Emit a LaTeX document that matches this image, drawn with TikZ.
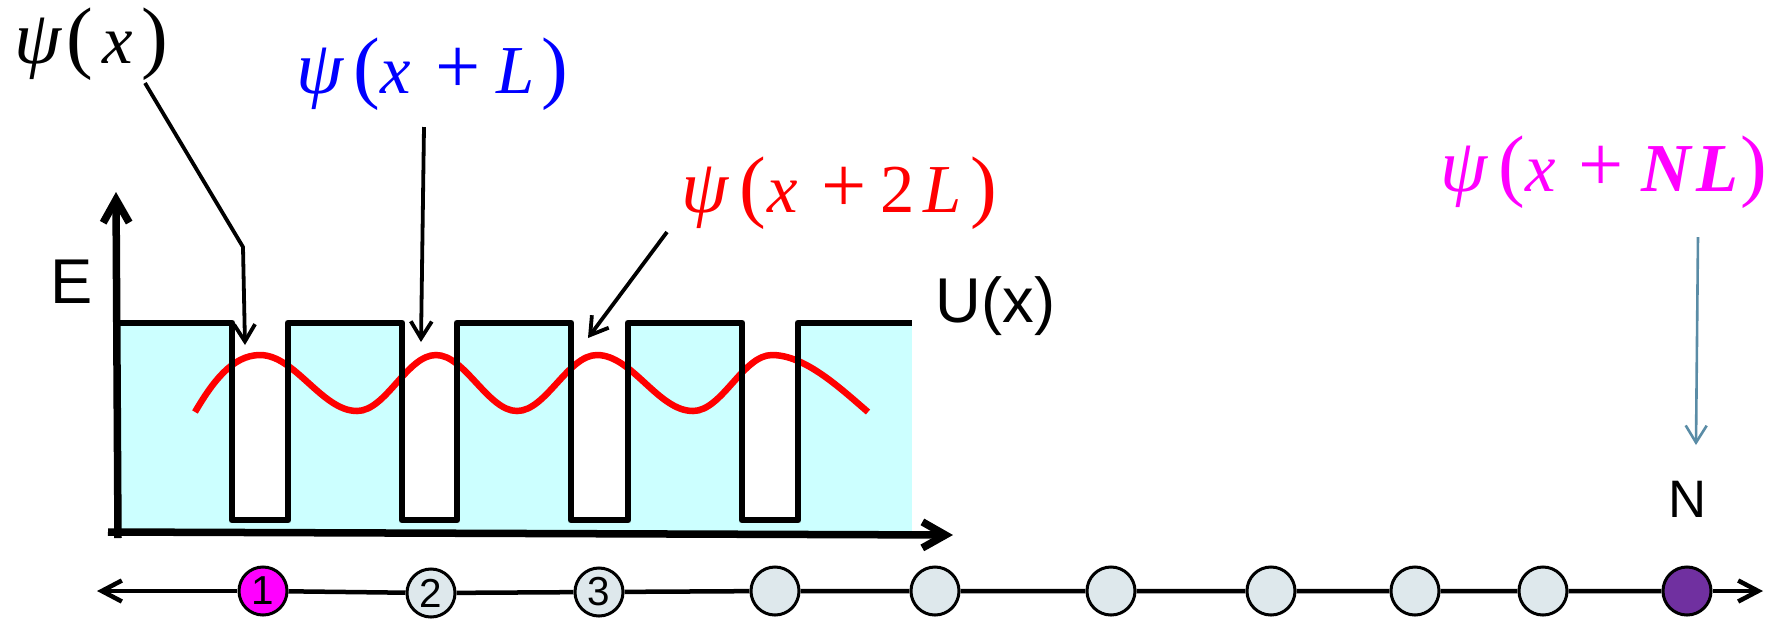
\documentclass[tikz,border=0pt]{standalone}
\usepackage{fontspec}
\setmainfont{Liberation Sans}
\newfontfamily\tms{Liberation Serif}
\usetikzlibrary{arrows.meta}
\definecolor{wellcyan}{HTML}{CCFFFF}
\definecolor{sitegray}{HTML}{DEE8EC}
\definecolor{sitepurple}{HTML}{7030A0}
\definecolor{leadblue}{HTML}{5A8CA6}
\definecolor{pink}{HTML}{FF00FF}
\newlength\pxu
\setlength\pxu{0.01cm}
% glyph placed at a fixed offset (in px) from the label origin
\newcommand{\glat}[2]{\rlap{\hspace*{#1\pxu}#2}}
\newcommand{\mpsi}{{\fontsize{21.5}{24}\selectfont\itshape ψ}}
\newcommand{\mvi}[1]{{\fontsize{19.5}{22}\selectfont\itshape #1}}
\newcommand{\mvb}[1]{{\fontsize{19.5}{22}\selectfont\bfseries\itshape #1}}
\newcommand{\mvup}[1]{{\fontsize{19.5}{22}\selectfont\upshape #1}}
\newcommand{\mbg}[1]{{\fontsize{22.8}{26}\selectfont\upshape #1}}
\begin{document}
\begin{tikzpicture}[x=0.01cm,y=-0.01cm,
  lbl/.style={inner sep=0pt, anchor=base west},
  mathlbl/.style={inner sep=0pt, anchor=base west, font=\tms},
  axisline/.style={line width=0.075cm, -{Straight Barb[length=0.23cm,width=0.26cm]}},
  leader/.style={line width=0.038cm, -{Straight Barb[length=0.17cm,width=0.21cm]}},
  site/.style={circle, draw, line width=0.03cm, minimum size=0.48cm, inner sep=0pt, fill=sitegray, font=\fontsize{11.5}{13}\selectfont},
  chainline/.style={line width=0.045cm},
  tipL/.style={{Straight Barb[length=0.2cm,width=0.21cm]}-},
  tipR/.style={-{Straight Barb[length=0.2cm,width=0.21cm]}}
  ]
\useasboundingbox (0,0) rectangle (1765,620);

% potential region fill
\fill[wellcyan] (118,322) rectangle (912,532);
\fill[white] (232,322) rectangle (288,520);
\fill[white] (402,322) rectangle (457,520);
\fill[white] (571,322) rectangle (628,520);
\fill[white] (742,322) rectangle (798,520);

% wave function
\draw[red, line width=0.065cm]
  (195,412) .. controls (212,383) and (232,355) .. (260,355)
  .. controls (295,355) and (322,411) .. (357,411)
  .. controls (386,411) and (407,355) .. (436,355)
  .. controls (465,355) and (488,411) .. (517,411)
  .. controls (546,411) and (568,355) .. (597,355)
  .. controls (632,355) and (658,411) .. (693,411)
  .. controls (722,411) and (743,355) .. (772,355)
  .. controls (805,355) and (840,388) .. (868,412);

% potential U(x)
\draw[line width=0.068cm, line join=round]
  (118,323) -- (232,323) -- (232,520) -- (288,520) -- (288,323)
  -- (402,323) -- (402,520) -- (457,520) -- (457,323)
  -- (571,323) -- (571,520) -- (628,520) -- (628,323)
  -- (742,323) -- (742,520) -- (798,520) -- (798,323) -- (912,323);

% axes
\coordinate (yb) at (118,538);
\coordinate (yt) at (116,192);
\coordinate (xl) at (108,532);
\coordinate (xr) at (953,535);
\draw[axisline] (yb) -- (yt);
\draw[axisline] (xl) -- (xr);

% labels
\node[lbl] (E) at (50,303) {\fontsize{18}{20}\selectfont E};
\node[lbl] (U) at (935,322) {\fontsize{18}{20}\selectfont U(x)};
\node[lbl] (N) at (1668,517) {\fontsize{15}{18}\selectfont N};

\node[mathlbl] (p0) at (14,63)
  {\glat{0}{\mpsi}\glat{52}{\mbg{(}}\glat{88}{\mvi{x}}\glat{127}{\mbg{)}}\hspace*{152\pxu}};
\node[mathlbl, text=blue] (p1) at (296,93)
  {\glat{0}{\mpsi}\glat{57}{\mbg{(}}\glat{84}{\mvi{x}}\glat{139}{\mbg{+}}\glat{200}{\mvi{L}}\glat{245}{\mbg{)}}\hspace*{268\pxu}};
\node[mathlbl, text=red] (p2) at (681,212)
  {\glat{0}{\mpsi}\glat{58}{\mbg{(}}\glat{86}{\mvi{x}}\glat{140}{\mbg{+}}\glat{199}{\mvup{2}}\glat{242}{\mvi{L}}\glat{289}{\mbg{)}}\hspace*{312\pxu}};
\node[mathlbl, text=pink] (p3) at (1440,191)
  {\glat{0}{\mpsi}\glat{58}{\mbg{(}}\glat{85}{\mvi{x}}\glat{138}{\mbg{+}}\glat{201}{\mvb{N}}\glat{256}{\mvb{L}}\glat{300}{\mbg{)}}\hspace*{322\pxu}};

% leaders
\coordinate (a0s) at (145,83);
\coordinate (a0m) at (243,247);
\coordinate (a0e) at (245,345);
\draw[leader, line join=round] (a0s) -- (a0m) -- (a0e);
\coordinate (a1s) at (424,127);
\coordinate (a1e) at (421,342);
\draw[leader] (a1s) -- (a1e);
\coordinate (a2s) at (667,232);
\coordinate (a2e) at (588,338);
\draw[leader] (a2s) -- (a2e);
\coordinate (a3s) at (1698,237);
\coordinate (a3e) at (1696,445);
\draw[leader, leadblue, line width=0.026cm] (a3s) -- (a3e);

% chain of sites
\node[site, fill=pink] (s1) at (263,591) {1};
\node[site] (s2) at (431,593) {2};
\node[site] (s3) at (599,592) {3};
\node[site] (s4) at (775,591) {};
\node[site] (s5) at (935,591) {};
\node[site] (s6) at (1111,591) {};
\node[site] (s7) at (1271,591) {};
\node[site] (s8) at (1415,591) {};
\node[site] (s9) at (1543,591) {};
\node[site, fill=sitepurple] (s10) at (1687,591) {};
\coordinate (cl) at (97,591);
\coordinate (cr) at (1763,591);
\draw[chainline, tipL] (cl) -- (s1);
\draw[chainline] (s1) -- (s2) (s2) -- (s3) (s3) -- (s4) (s4) -- (s5) (s5) -- (s6)
  (s6) -- (s7) (s7) -- (s8) (s8) -- (s9) (s9) -- (s10);
\draw[chainline, tipR] (s10) -- (cr);
\end{tikzpicture}
\end{document}
